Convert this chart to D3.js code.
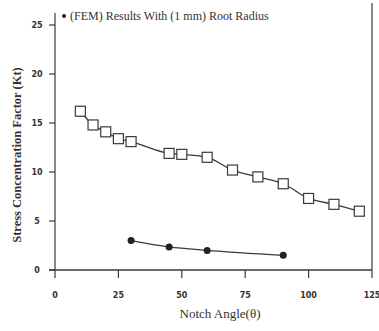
<!DOCTYPE html>
<html lang="en">
<head>
  <meta charset="UTF-8">
  <title>Stress Concentration Factor vs Notch Angle</title>
  <script src="https://d3js.org/d3.v7.min.js"></script>
  <style>
    body { margin: 0; background: #fff; }
    text { font-family: "Liberation Serif", "DejaVu Serif", serif; fill: #333; }
  </style>
</head>
<body>
  <svg id="chart" width="379" height="331"></svg>

  <script>
    // square series (solid line with open squares)
    const squareAngles = [10, 15, 20, 25, 30, 45, 50, 60, 70, 80, 90, 100, 110, 120];
    const squareKt = [16.2, 14.8, 14.1, 13.4, 13.1, 11.9, 11.8, 11.5, 10.2, 9.5, 8.8, 7.3, 6.7, 6.0];

    // FEM results with 1 mm root radius (filled circles)
    const femAngles = [30, 45, 60, 90];
    const femKt = [3.0, 2.35, 2.0, 1.5];

    const xTicks = [0, 25, 50, 75, 100, 125];
    const yTicks = [0, 5, 10, 15, 20, 25];

    const svg = d3.select("#chart");
    const ink = "#3a3a3a";

    const x = d3.scaleLinear().domain([0, 125]).range([55, 372]);
    const y = d3.scaleLinear().domain([0, 25]).range([270, 25]);

    // axes lines
    svg.append("line")
      .attr("x1", x(0)).attr("x2", x(0))
      .attr("y1", 13).attr("y2", y(0))
      .attr("stroke", ink).attr("stroke-width", 1.2);
    svg.append("line")
      .attr("x1", x(0) - 6).attr("x2", x(125))
      .attr("y1", y(0)).attr("y2", y(0))
      .attr("stroke", ink).attr("stroke-width", 1.4);
    svg.append("line")
      .attr("x1", x(125)).attr("x2", x(125))
      .attr("y1", 3).attr("y2", y(0))
      .attr("stroke", ink).attr("stroke-width", 1.2);

    // y ticks
    const yg = svg.append("g");
    yTicks.forEach(t => {
      yg.append("line")
        .attr("x1", x(0) - 6).attr("x2", x(0))
        .attr("y1", y(t)).attr("y2", y(t))
        .attr("stroke", ink).attr("stroke-width", 1.2);
      yg.append("text")
        .attr("x", 37).attr("y", y(t))
        .attr("dy", "0.35em")
        .attr("text-anchor", "middle")
        .attr("font-size", 8)
        .attr("font-weight", "bold")
        .style("font-family", "'DejaVu Sans', sans-serif")
        .text(t);
    });

    // x ticks
    const xg = svg.append("g");
    xTicks.forEach(t => {
      xg.append("line")
        .attr("x1", x(t)).attr("x2", x(t))
        .attr("y1", y(0)).attr("y2", y(0) + 8)
        .attr("stroke", ink).attr("stroke-width", 1.2);
      xg.append("text")
        .attr("x", x(t)).attr("y", 295)
        .attr("dy", "0.35em")
        .attr("text-anchor", "middle")
        .attr("font-size", 8)
        .attr("font-weight", "bold")
        .style("font-family", "'DejaVu Sans', sans-serif")
        .text(t);
    });

    // axis titles
    svg.append("text")
      .attr("x", 220).attr("y", 318)
      .attr("text-anchor", "middle")
      .attr("font-size", 13)
      .text("Notch Angle(θ)");

    svg.append("text")
      .attr("transform", "translate(21,155) rotate(-90)")
      .attr("text-anchor", "middle")
      .attr("font-size", 12.5)
      .attr("font-weight", "bold")
      .text("Stress Concentration Factor (Kt)");

    // square series
    const sqData = squareAngles.map((a, i) => ({ a, k: squareKt[i] }));
    const line = d3.line().x(d => x(d.a)).y(d => y(d.k)).curve(d3.curveMonotoneX);

    svg.append("path")
      .datum(sqData)
      .attr("d", line)
      .attr("fill", "none")
      .attr("stroke", ink)
      .attr("stroke-width", 1.3);

    const s = 10;
    svg.selectAll(".sq")
      .data(sqData)
      .enter().append("rect")
      .attr("class", "sq")
      .attr("x", d => x(d.a) - s / 2)
      .attr("y", d => y(d.k) - s / 2)
      .attr("width", s).attr("height", s)
      .attr("fill", "#fff")
      .attr("stroke", ink)
      .attr("stroke-width", 1.2);

    // FEM series
    const femData = femAngles.map((a, i) => ({ a, k: femKt[i] }));
    svg.append("path")
      .datum(femData)
      .attr("d", line)
      .attr("fill", "none")
      .attr("stroke", ink)
      .attr("stroke-width", 1.3);

    svg.selectAll(".fem")
      .data(femData)
      .enter().append("circle")
      .attr("class", "fem")
      .attr("cx", d => x(d.a))
      .attr("cy", d => y(d.k))
      .attr("r", 3.5)
      .attr("fill", "#222");

    // legend
    svg.append("circle")
      .attr("cx", 64).attr("cy", 16).attr("r", 2)
      .attr("fill", "#222");
    svg.append("text")
      .attr("x", 70).attr("y", 16)
      .attr("dy", "0.35em")
      .attr("font-size", 12)
      .text("(FEM) Results With (1 mm) Root Radius");
  </script>
</body>
</html>
